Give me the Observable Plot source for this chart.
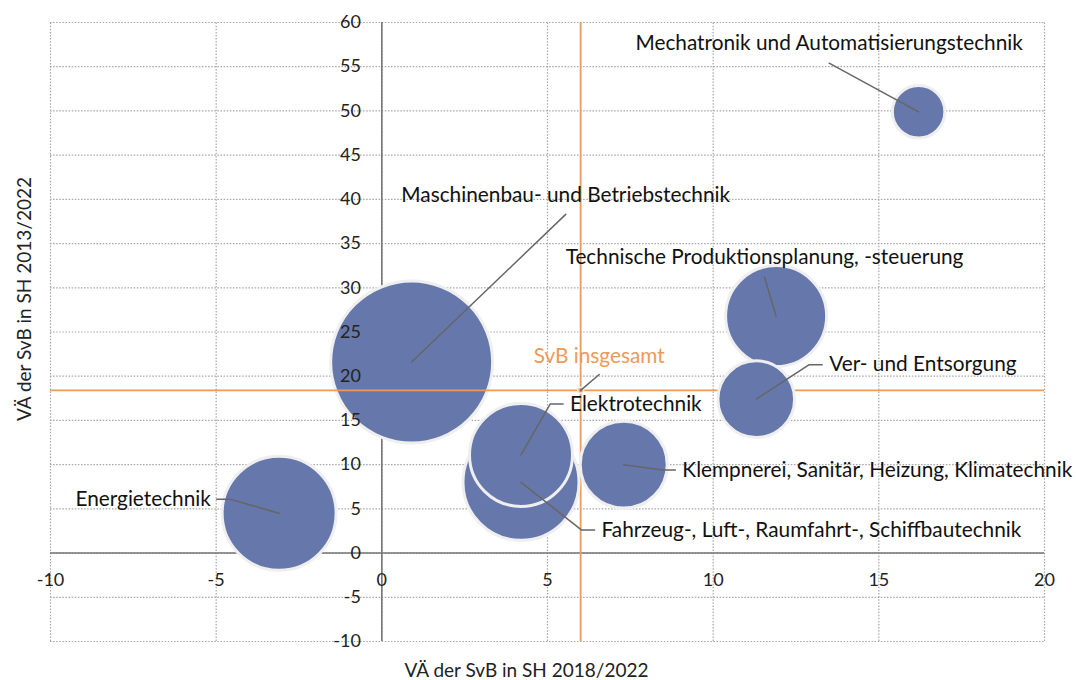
<!DOCTYPE html>
<html>
<head>
<meta charset="utf-8">
<script src="https://cdn.jsdelivr.net/npm/d3@7"></script>
<script src="https://cdn.jsdelivr.net/npm/@observablehq/plot@0.6"></script>
<style>
  html, body { margin: 0; padding: 0; background: #fff; }
  #chart { width: 1076px; height: 680px; }
  svg { font-family: Lato, "Open Sans", sans-serif; }
</style>
</head>
<body>
<div id="chart"></div>
<script>
// ---- data ----
const names = [
  "Mechatronik und Automatisierungstechnik",
  "Maschinenbau- und Betriebstechnik",
  "Technische Produktionsplanung, -steuerung",
  "Ver- und Entsorgung",
  "Elektrotechnik",
  "Fahrzeug-, Luft-, Raumfahrt-, Schiffbautechnik",
  "Klempnerei, Sanitär, Heizung, Klimatechnik",
  "Energietechnik"
];
const xVals = [16.2, 0.9, 11.9, 11.3, 4.2, 4.2, 7.3, -3.1];   // VÄ 2018/2022
const yVals = [49.9, 21.6, 26.8, 17.4, 11.1, 8.0, 10.0, 4.5];  // VÄ 2013/2022
const sizes = [10.5, 100, 38.9, 22.4, 40.4, 51.3, 28.8, 49.5];  // relative bubble size

// label annotations (data coordinates)
const labelX = [13.5, 5.55, 11.55, 13.5, 5.68, 6.63, 9.07, -5.16];
const labelY = [57.6, 40.5, 33.4, 21.3, 16.85, 2.6, 9.4, 6.1];
const labelSide = ["top", "top", "top", "right", "right", "right", "right", "left"];

const svbName = "SvB insgesamt";
const svbX = 6.0;
const svbY = 18.4;
const svbLabelX = 6.56;
const svbLabelY = 22.2;

const xTicks = [-10, -5, 0, 5, 10, 15, 20];
const yTicks = [-10, -5, 0, 5, 10, 15, 20, 25, 30, 35, 40, 45, 50, 55, 60];
const xTitle = "VÄ der SvB in SH 2018/2022";
const yTitle = "VÄ der SvB in SH 2013/2022";

// ---- build tables ----
const bubbles = names.map((n, i) => ({
  name: n, x: xVals[i], y: yVals[i], size: sizes[i],
  lx: labelX[i], ly: labelY[i], side: labelSide[i]
}));

const leaders = [];
bubbles.forEach(b => {
  if (b.side === "top") {
    leaders.push({name: b.name, x: b.lx, y: b.ly - 2.2});
    leaders.push({name: b.name, x: b.x, y: b.y});
  } else if (b.side === "right") {
    leaders.push({name: b.name, x: b.lx - 0.21, y: b.ly});
    leaders.push({name: b.name, x: b.lx - 0.6, y: b.ly});
    leaders.push({name: b.name, x: b.x, y: b.y});
  } else {
    leaders.push({name: b.name, x: b.lx + 0.18, y: b.ly});
    leaders.push({name: b.name, x: b.lx + 0.57, y: b.ly});
    leaders.push({name: b.name, x: b.x, y: b.y});
  }
});
leaders.push({name: svbName, x: svbLabelX, y: svbLabelY - 2.0});
leaders.push({name: svbName, x: svbX, y: svbY});

const big = bubbles.filter(b => b.size === d3.max(sizes));
const rest = bubbles.filter(b => b.size !== d3.max(sizes));

const orange = "#EE9A58";
const blue = "#6677AB";
const ring = "#EFEFEF";
const gridColor = "#A6A6A6";
const axisColor = "#767676";
const labelSize = 20.8;

const plot = Plot.plot({
  width: 1076,
  height: 680,
  marginLeft: 50,
  marginRight: 32,
  marginTop: 22,
  marginBottom: 39,
  x: {domain: [-10, 20], axis: null},
  y: {domain: [-10, 60], axis: null},
  r: {domain: [0, 100], range: [0, 81]},
  marks: [
    Plot.ruleX(xTicks, {y1: -10, y2: 60, stroke: gridColor, strokeWidth: 1.2, strokeDasharray: "1.5,1.6"}),
    Plot.ruleY(yTicks, {x1: -10, x2: 20, stroke: gridColor, strokeWidth: 1.2, strokeDasharray: "1.5,1.6"}),
    Plot.ruleX([0], {y1: -10, y2: 60, stroke: axisColor, strokeWidth: 1.6}),
    Plot.ruleY([0], {x1: -10, x2: 20, stroke: axisColor, strokeWidth: 1.6}),
    Plot.dot(big, {x: "x", y: "y", r: "size", fill: blue, fillOpacity: 1, stroke: ring, strokeWidth: 3}),
    Plot.ruleX([svbX], {y1: -10, y2: 60, stroke: orange, strokeWidth: 1.8}),
    Plot.ruleY([svbY], {x1: -10, x2: 20, stroke: orange, strokeWidth: 1.8}),
    Plot.dot(rest, {x: "x", y: "y", r: "size", fill: blue, fillOpacity: 1, stroke: ring, strokeWidth: 3}),
    Plot.dot([{x: svbX, y: svbY}], {x: "x", y: "y", r: 3, fill: orange, stroke: ring, strokeWidth: 1.5}),
    Plot.text(yTicks, {x: 0, y: d => d, text: d => String(d), textAnchor: "end", dx: -21, fontSize: 18, fill: "#222"}),
    Plot.text(xTicks, {x: d => d, y: 0, text: d => String(d), dy: 27, fontSize: 18, fill: "#222"}),
    Plot.line(leaders, {x: "x", y: "y", z: "name", stroke: "#666", strokeWidth: 1.5}),
    Plot.text(bubbles.filter(b => b.side === "top"), {x: "lx", y: "ly", text: "name", textAnchor: "middle", fontSize: labelSize, fill: "#111"}),
    Plot.text(bubbles.filter(b => b.side === "right"), {x: "lx", y: "ly", text: "name", textAnchor: "start", fontSize: labelSize, fill: "#111"}),
    Plot.text(bubbles.filter(b => b.side === "left"), {x: "lx", y: "ly", text: "name", textAnchor: "end", fontSize: labelSize, fill: "#111"}),
    Plot.text([svbName], {x: svbLabelX, y: svbLabelY, text: d => d, textAnchor: "middle", fontSize: labelSize, fill: orange}),
    Plot.text([xTitle], {frameAnchor: "bottom", text: d => d, textAnchor: "middle", lineAnchor: "middle", dx: -21, dy: 29, fontSize: 19, fill: "#222"}),
    Plot.text([yTitle], {frameAnchor: "left", text: d => d, textAnchor: "middle", lineAnchor: "middle", rotate: -90, dx: -26, dy: -33, fontSize: 19, fill: "#222"})
  ]
});
document.getElementById("chart").appendChild(plot);
</script>
</body>
</html>
